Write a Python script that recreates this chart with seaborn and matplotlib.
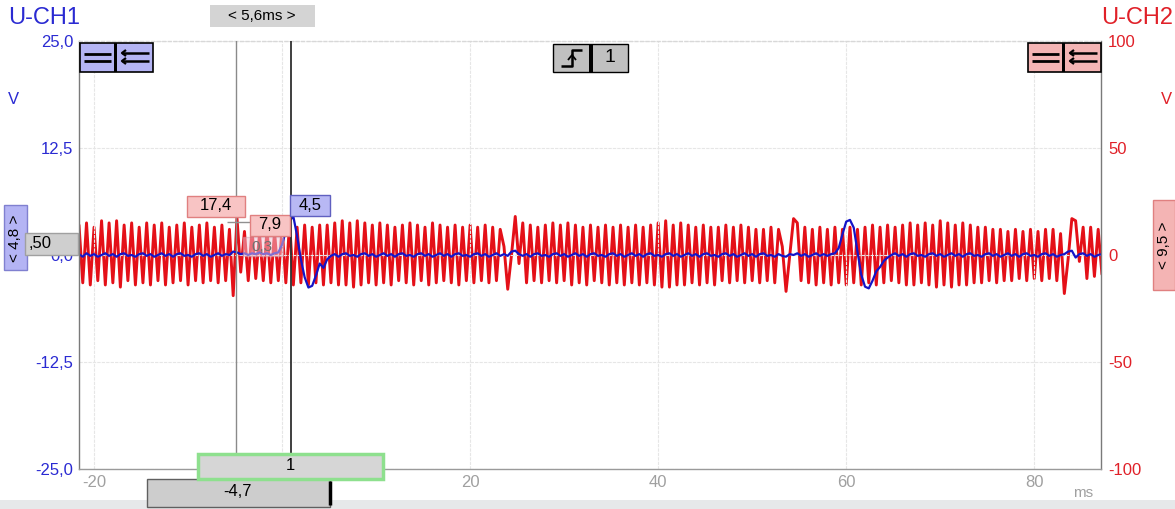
import numpy as np
import pandas as pd
import matplotlib
matplotlib.use("Agg")
import matplotlib.pyplot as plt
import seaborn as sns
from matplotlib.patches import Rectangle
from matplotlib.lines import Line2D

# ---------------- data ----------------
start_ms = -21.6          # first sample time (ms)
sample_step_ms = 0.4      # oscilloscope time base step (ms)

# U-CH2 (red), volts, one value per sample
ch2_red = [
    14, -13, 15, -14, 13, -12, 16, -14, 15, -13, 16, -15, 14, -12, 15, -14, 13, -13, 15, -14,
    14, -12, 15, -14, 13, -13, 14, -12, 15, -14, 13, -12, 14, -13, 15, -12, 13, -13, 14, -12,
    12, -19, 17.4, -8, 11, -12, 12, -11, 10, -12, 12, -13, 11, -12, 13, -13, 15, -14, 13, -13,
    14, -14, 13, -13, 14, -14, 14, -13, 15, -14, 16, -14, 15, -15, 16, -14, 15, -13, 14, -14,
    15, -13, 14, -14, 13, -12, 14, -13, 15, -14, 14, -12, 13, -14, 15, -13, 14, -12, 13, -13,
    14, -14, 13, -12, 14, -13, 13, -12, 14, -13, 13, -12, 12, 4, -16, 0, 18, -4, 15, -13,
    14, -12, 13, -13, 14, -12, 15, -13, 14, -12, 15, -14, 14, -13, 13, -14, 14, -12, 13, -13,
    14, -14, 13, -13, 14, -14, 13, -13, 14, -14, 13, -13, 14, -14, 15, -15, 16, -15, 14, -14,
    15, -14, 14, -13, 13, -14, 14, -13, 13, -14, 13, -12, 14, -13, 13, -12, 14, -13, 13, -12,
    12, -13, 12, -12, 13, -13, 12, 4, -17, 0, 17, 15, -12, 13, -13, 12, -14, 13, -13, 12,
    -14, 13, -13, 12, -14, 13, -13, 12, -14, 13, -13, 14, -14, 13, -13, 14, -12, 13, -13, 14,
    -14, 15, -14, 14, -13, 15, -14, 14, -15, 16, -14, 15, -15, 14, -14, 15, -14, 14, -13, 13,
    -13, 13, -12, 12, -13, 12, -12, 11, -12, 12, -11, 11, -12, 12, -11, 11, -12, 12, -11, 12,
    -12, 10, -18, -2, 17, 16, -3, 13, -11, 13, -10, 12, -9,
]

# U-CH1 (blue), volts, one value per sample
ch1_blue = [
    0.1, -0.2, 0.2, -0.1, 0.1, -0.2, 0.0, 0.2, -0.1, 0.1, -0.2, 0.1, 0.2, -0.1, 0.0, -0.2, 0.1, 0.2, -0.1, 0.1,
    -0.2, 0.0, 0.2, -0.1, 0.1, -0.2, 0.1, 0.2, -0.1, 0.0, -0.2, 0.1, 0.2, -0.1, 0.1, -0.2, 0.0, 0.2, -0.1, 0.1,
    0.0, 0.4, 0.3, 0.1, 0.2, 0.0, 0.2, 0.1, 0.3, 0.1, 0.2, 0.0, 0.2, 0.3, 1.2, 2.8, 4.0, 4.5, 2.2, -0.5,
    -2.6, -3.8, -3.6, -2.4, -1.0, -1.5, -0.5, -0.1, 0.1, -0.2, 0.1, 0.2, -0.1, 0.0, -0.2, 0.1, 0.2, -0.1, 0.1, -0.2,
    0.0, 0.2, -0.1, 0.1, -0.2, 0.1, 0.2, -0.1, 0.0, -0.2, 0.1, 0.2, -0.1, 0.1, -0.2, 0.0, 0.2, -0.1, 0.1, -0.2,
    0.1, 0.2, -0.1, 0.0, -0.2, 0.1, 0.2, -0.1, 0.1, -0.2, 0.0, 0.2, -0.1, 0.1, -0.1, 0.4, 0.5, 0.1, -0.1, 0.1,
    -0.2, 0.1, 0.2, -0.1, 0.0, -0.2, 0.1, 0.2, -0.1, 0.1, -0.2, 0.0, 0.2, -0.1, 0.1, -0.2, 0.1, 0.2, -0.1, 0.0,
    -0.2, 0.1, 0.2, -0.1, 0.1, -0.2, 0.0, 0.2, -0.1, 0.1, -0.2, 0.1, 0.2, -0.1, 0.0, -0.2, 0.1, 0.2, -0.1, 0.1,
    -0.2, 0.0, 0.2, -0.1, 0.1, -0.2, 0.1, 0.2, -0.1, 0.0, -0.2, 0.1, 0.2, -0.1, 0.1, -0.2, 0.0, 0.2, -0.1, 0.1,
    -0.2, 0.1, 0.2, -0.1, 0.0, -0.2, 0.1, -0.1, -0.2, 0.1, 0.0, 0.2, -0.1, 0.1, -0.2, 0.0, 0.2, -0.1, 0.1, -0.1,
    0.1, 0.2, 0.8, 2.4, 3.9, 4.1, 3.2, 0.4, -2.3, -3.7, -3.9, -3.0, -1.9, -1.4, -0.7, -0.3, 0.0, 0.2, -0.1, 0.1,
    -0.2, 0.1, 0.2, -0.1, 0.0, -0.2, 0.1, 0.2, -0.1, 0.1, -0.2, 0.0, 0.2, -0.1, 0.1, -0.2, 0.1, 0.2, -0.1, 0.0,
    -0.2, 0.1, 0.2, -0.1, 0.1, -0.2, 0.0, 0.2, -0.1, 0.1, -0.2, 0.1, 0.2, -0.1, 0.0, -0.2, 0.1, 0.2, -0.1, 0.1,
    -0.2, 0.0, 0.1, 0.4, 0.5, -0.3, 0.1, 0.2, -0.1, 0.1, -0.2, 0.0, 0.1,
]

x_range = [-21.6, 87.1]
x_ticks = [-20, 0, 20, 40, 60, 80]
x_labels = ["-20", "0", "20", "40", "60", "80"]
ch1_range = [-25, 25]
ch1_ticks = [-25, -12.5, 0, 12.5, 25]
ch1_labels = ["-25,0", "-12,5", "0,0", "12,5", "25,0"]
ch2_range = [-100, 100]
ch2_ticks = [-100, -50, 0, 50, 100]
ch2_labels = ["-100", "-50", "0", "50", "100"]
cursor_ms = [-4.9, 0.9]

# ---------------- style ----------------
BLUE_TXT = "#2a2ad2"
BLUE = "#1414c8"
RED_TXT = "#e02028"
RED = "#e41018"

sns.set_theme(style="white")
plt.rcParams['font.family'] = ['Liberation Sans', 'DejaVu Sans']

W, H = 1175, 509
fig = plt.figure(figsize=(W / 100, H / 100), dpi=100)
ax = fig.add_axes([79 / W, 1 - 469 / H, (1101 - 79) / W, (469 - 41) / H])
ax2 = ax.twinx()
ax.set_zorder(ax2.get_zorder() + 1)
ax.patch.set_visible(False)

n = len(ch2_red)
t = start_ms + np.arange(n) * sample_step_ms
df = pd.DataFrame({"t": t, "ch1": ch1_blue, "ch2": ch2_red})

sns.lineplot(data=df, x="t", y="ch2", ax=ax2, color=RED, lw=2.1,
             estimator=None, sort=False)
sns.lineplot(data=df, x="t", y="ch1", ax=ax, color=BLUE, lw=1.6,
             estimator=None, sort=False)

ax.set_xlim(*x_range)
ax.set_ylim(*ch1_range)
ax2.set_ylim(*ch2_range)
ax.set_xlabel("")
ax.set_ylabel("")
ax2.set_ylabel("")

ax.set_xticks(x_ticks, x_labels)
ax.set_yticks(ch1_ticks, ch1_labels)
ax2.set_yticks(ch2_ticks, ch2_labels)
ax.tick_params(axis='x', length=0, pad=4, labelcolor="#a0a0a0", labelsize=12)
ax.tick_params(axis='y', length=0, pad=4, labelcolor=BLUE_TXT, labelsize=12)
ax2.tick_params(axis='y', length=0, pad=5, labelcolor=RED_TXT, labelsize=12)

ax.grid(True, color="#e6e6e6", lw=0.8, ls=(0, (3, 1)))
for s in ax2.spines.values():
    s.set_visible(False)
ax.spines['left'].set_color("#7a7a7a")
ax.spines['right'].set_color("#7a7a7a")
ax.spines['bottom'].set_color("#9a9a9a")
ax.spines['top'].set_color("#d8d8d8")
ax.spines['top'].set_linestyle((0, (2, 2)))
for s in ax.spines.values():
    s.set_linewidth(1.0)

ax.axvline(cursor_ms[0], color="#8a8a8a", lw=1.0, zorder=5)
ax.axvline(cursor_ms[1], color="#303030", lw=1.3, zorder=5)


# ---------------- overlay widgets (figure pixel coords) ----------------
def box(x0, y0, x1, y1, fc, ec="none", lw=1.0, z=20, alpha=1.0):
    fig.add_artist(Rectangle((x0 / W, 1 - y1 / H), (x1 - x0) / W, (y1 - y0) / H,
                             transform=fig.transFigure, facecolor=fc, edgecolor=ec,
                             linewidth=lw, zorder=z, alpha=alpha))


def label(x, y, s, color="black", size=12, ha="center", va="center", rot=0, z=22):
    fig.text(x / W, 1 - y / H, s, color=color, fontsize=size, ha=ha, va=va,
             rotation=rot, zorder=z)


def seg(xs, ys, color="black", lw=1.5, z=23):
    fig.add_artist(Line2D([x / W for x in xs], [1 - y / H for y in ys],
                          transform=fig.transFigure, color=color, lw=lw, zorder=z,
                          solid_capstyle="butt"))


label(8, 18, "U-CH1", BLUE_TXT, 17, ha="left")
label(1173, 18, "U-CH2", RED_TXT, 17, ha="right")
label(13, 100, "V", BLUE_TXT, 12)
label(1166, 100, "V", RED_TXT, 12)

box(210, 5, 315, 27, "#d4d4d4")
label(262, 16, "< 5,6ms >", size=11)

# channel icon boxes
for (x0, fc) in [(80, "#b4b4f4"), (1028, "#f4b4b4")]:
    box(x0, 43, x0 + 73, 72, fc, "black", 1.2)
    box(x0 + 34, 43, x0 + 37, 72, "black")
    seg([x0 + 4, x0 + 31], [54, 54], lw=2)
    seg([x0 + 4, x0 + 31], [61, 61], lw=2)
    for yy in (53, 61):
        seg([x0 + 42, x0 + 69], [yy, yy], lw=1.8)
        seg([x0 + 46, x0 + 42, x0 + 46], [yy - 3, yy, yy + 3], lw=1.6)

# trigger box
box(553, 44, 628, 72, "#c0c0c0", "black", 1.0)
box(589, 44, 593, 72, "black")
seg([561, 572, 572, 582], [66, 66, 50, 50], lw=1.8)
seg([568, 572, 576], [60, 55, 60], lw=1.3)
label(610, 58, "1", size=14)

# side scale boxes
box(4, 205, 27, 270, "#b4b4f4", "#8080d0")
label(15, 238, "< 4,8 >", size=11, rot=90)
box(25, 233, 78, 255, "#cfcfcf", "#a0a0a0")
label(29, 244, ",50", size=12, ha="left")
box(1153, 200, 1175, 290, "#f4b4b4", "#e08080")
label(1164, 245, "< 9,5 >", size=11, rot=90)

# cursor value tags
seg([227, 250], [222, 222], color="#909090", lw=1.0, z=19)
box(187, 196, 245, 217, "#f8c4c4", "#e08080")
label(216, 206, "17,4", size=12)
box(243, 237, 283, 256, "#f0c8d8", "#d0a0b0", alpha=0.5)
label(262, 247, "0,3", color="#707070", size=11)
box(250, 215, 290, 236, "#f8c4c4", "#e08080")
label(270, 225, "7,9", size=12)
box(290, 195, 330, 216, "#b8b8f4", "#6060c0")
label(310, 205, "4,5", size=12)

# bottom widgets
box(0, 500, 1175, 509, "#e6e8ea", z=15)
box(147, 479, 330, 507, "#cdcdcd", "#606060")
seg([330, 330], [481, 505], lw=2.5)
label(238, 492, "-4,7", size=12)
box(198, 454, 383, 479, "#d6d6d6", "#8ee08e", 2.5)
label(290, 466, "1", size=12)
label(1083, 493, "ms", color="#a0a0a0", size=11)

fig.savefig("out.png", dpi=100)
